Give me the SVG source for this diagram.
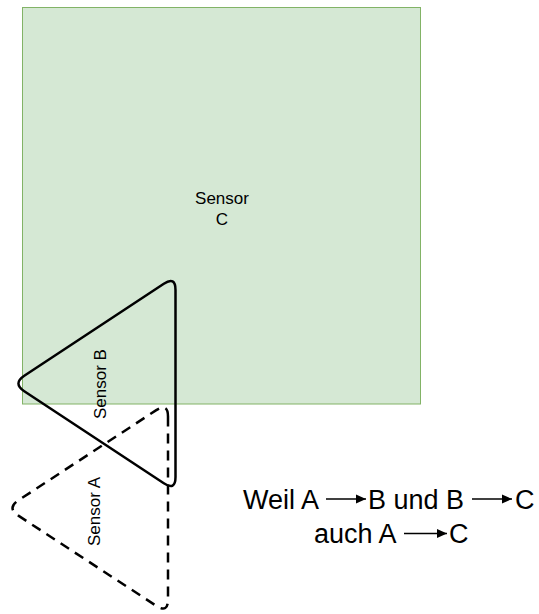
<svg xmlns="http://www.w3.org/2000/svg" width="539" height="614" viewBox="0 0 539 614">
<defs>
<marker id="ah" viewBox="0 0 10 10" refX="10" refY="5" markerWidth="10" markerHeight="10" markerUnits="userSpaceOnUse" orient="auto">
<path d="M0 0.5 L10 5 L0 9.5 Z" fill="#000"/>
</marker>
</defs>
<style>
text{font-family:"Liberation Sans",Arial,sans-serif;fill:#000}
.lbl{font-size:17px}
.big{font-size:27px}
.tri{fill:none;stroke:#000;stroke-width:2.5;stroke-linejoin:round}
.dash{stroke-dasharray:10 7}
.arr{stroke:#000;stroke-width:1.6;fill:none;marker-end:url(#ah)}
</style>
<rect width="539" height="614" fill="#fff"/>
<g id="sensorC">
<rect x="22.5" y="7.5" width="398" height="396.5" fill="#d5e8d4" stroke="#82b366" stroke-width="1"/>
<text class="lbl" text-anchor="middle"><tspan x="222" y="204">Sensor</tspan><tspan x="222" y="225">C</tspan></text>
</g>
<g id="sensorA">
<path class="tri dash" d="M168 416.5 L168 599.5 Q168 613.5 156.28 605.84 L18.37 515.66 Q6.65 508 18.37 500.34 L156.28 410.16 Q168 402.5 168 416.5 Z"/>
<text class="lbl" text-anchor="middle" transform="translate(100 511.5) rotate(-90)">Sensor A</text>
</g>
<g id="sensorB">
<path class="tri" d="M175.5 290 L175.5 477 Q175.5 491 163.82 483.29 L24.28 391.21 Q12.6 383.5 24.28 375.79 L163.82 283.71 Q175.5 276 175.5 290 Z"/>
<text class="lbl" text-anchor="middle" transform="translate(106 384) rotate(-90)">Sensor B</text>
</g>
<g id="connectors">
<line class="arr" x1="326" y1="499" x2="366" y2="499"/>
<line class="arr" x1="472" y1="499" x2="512" y2="499"/>
<line class="arr" x1="404" y1="533.5" x2="447" y2="533.5"/>
</g>
<g id="note">
<text class="big"><tspan x="243" y="508.5">Weil A</tspan><tspan x="368" y="508.5">B und B</tspan><tspan x="515" y="508.5">C</tspan></text>
<text class="big"><tspan x="314" y="543">auch A</tspan><tspan x="449" y="543">C</tspan></text>
</g>
</svg>
